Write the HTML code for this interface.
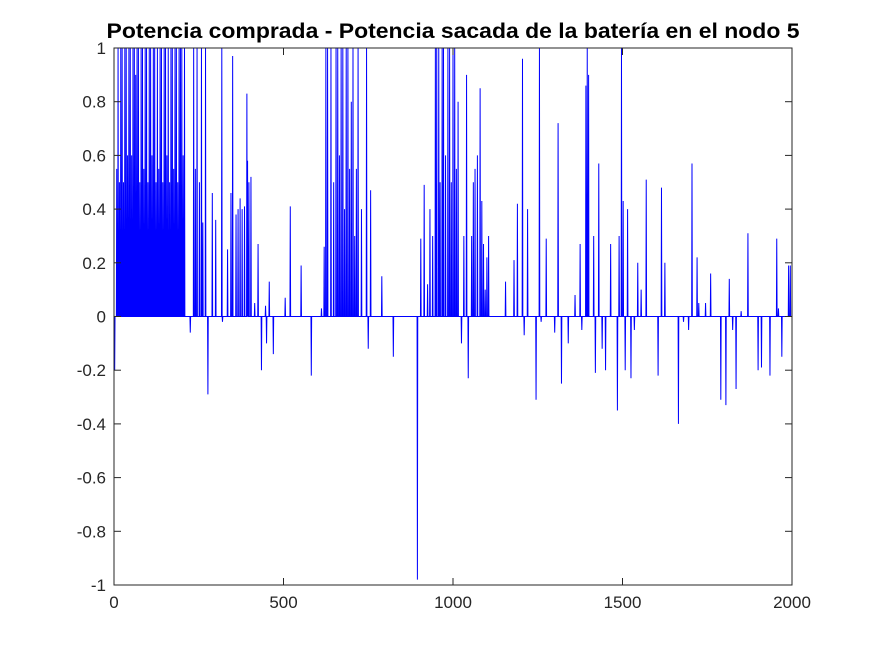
<!DOCTYPE html>
<html><head><meta charset="utf-8"><style>
body{margin:0;background:#fff;width:875px;height:656px;overflow:hidden}
svg{display:block;font-family:"Liberation Sans",Arial,sans-serif}
</style></head><body>
<svg id="chart" width="875" height="656">
<rect width="875" height="656" fill="#fff"/>
<text x="453" y="38" text-anchor="middle" font-size="21" font-weight="bold" fill="#000" textLength="693" lengthAdjust="spacingAndGlyphs">Potencia comprada - Potencia sacada de la batería en el nodo 5</text>
<g id="plot"></g>
<g id="axes"></g>
</svg>
<script>
const spikeX=[2,8,12,16,20,24,28,32,36,40,44,48,52,56,60,64,68,72,76,80,84,88,92,96,100,104,108,112,116,120,124,128,132,136,140,144,148,152,156,160,164,168,172,176,180,184,188,192,196,200,204,208,225,235,240,245,252,258,262,270,277,290,300,318,320,335,345,350,360,366,372,378,385,392,394,398,404,415,425,435,447,450,458,470,505,520,552,582,612,620,625,630,640,648,655,660,665,670,675,680,685,690,695,700,705,710,715,720,730,745,750,757,790,824,895,905,915,925,932,940,948,952,958,962,968,972,978,985,990,995,1000,1005,1010,1015,1025,1032,1040,1045,1055,1060,1065,1072,1080,1085,1090,1095,1100,1105,1155,1180,1190,1205,1210,1220,1245,1255,1260,1275,1300,1310,1320,1340,1360,1375,1380,1392,1396,1400,1415,1420,1430,1440,1450,1465,1485,1490,1497,1502,1508,1515,1525,1535,1545,1555,1570,1605,1615,1625,1665,1680,1695,1705,1720,1725,1745,1760,1790,1805,1815,1825,1835,1850,1870,1900,1910,1935,1955,1960,1970,1990,1995];
const spikeY=[-0.2,0.55,1,0.5,1,1,0.5,1,1,0.6,1,1,0.6,1,1,0.9,1,1,0.5,1,1,0.55,1,1,0.5,1,1,0.6,1,1,0.5,1,0.55,1,1,0.5,1,1,0.6,1,0.5,1,1,0.55,1,1,0.5,1,1,1,0.6,1,-0.06,1,0.55,1,0.5,1,0.35,1,-0.29,0.46,0.36,1,-0.02,0.25,0.46,0.97,0.38,0.4,0.44,0.4,0.41,0.83,0.58,0.5,0.52,0.05,0.27,-0.2,0.04,-0.1,0.13,-0.14,0.07,0.41,0.19,-0.22,0.03,0.26,1,1,1,0.5,1,1,0.6,1,1,0.4,1,1,0.55,0.8,1,0.3,0.55,1,0.4,1,-0.12,0.47,0.15,-0.15,-0.98,0.29,0.49,0.12,0.4,0.3,1,1,1,0.5,1,1,0.6,1,1,0.5,1,1,0.55,0.8,-0.1,0.3,0.9,-0.23,0.3,0.5,0.55,0.6,0.85,0.43,0.27,0.1,0.22,0.3,0.13,0.21,0.42,0.96,-0.07,0.4,-0.31,1,-0.02,0.29,-0.06,0.72,-0.25,-0.1,0.08,0.27,-0.05,0.86,1,0.9,0.3,-0.21,0.57,-0.12,-0.2,0.27,-0.35,0.3,1,0.43,-0.2,0.4,-0.23,-0.05,0.2,0.1,0.51,-0.22,0.48,0.2,-0.4,-0.02,-0.05,0.57,0.22,0.05,0.05,0.16,-0.31,-0.33,0.14,-0.05,-0.27,0.02,0.31,-0.2,-0.19,-0.22,0.29,0.03,-0.15,0.19,0.19];
const xTicks=[0,500,1000,1500,2000];
const yTicks=[-1,-0.8,-0.6,-0.4,-0.2,0,0.2,0.4,0.6,0.8,1];
const yTickLabels=["-1","-0.8","-0.6","-0.4","-0.2","0","0.2","0.4","0.6","0.8","1"];
const L=114,R=792,T=48,B=585,NS="http://www.w3.org/2000/svg";
const xs=v=>L+(v-0)/(2000-0)*(R-L);
const ys=v=>B-(v+1)/2*(B-T);
const plot=document.getElementById('plot'),axes=document.getElementById('axes');
let d="M"+xs(0)+","+ys(0);
for(let i=0;i<spikeX.length;i++){
  d+=" L"+xs(spikeX[i]-1)+","+ys(0)+" L"+xs(spikeX[i])+","+ys(spikeY[i])+" L"+xs(spikeX[i]+1)+","+ys(0);
}
d+=" L"+xs(2000)+","+ys(0);
const p=document.createElementNS(NS,'path');
p.setAttribute('d',d);p.setAttribute('fill','none');p.setAttribute('stroke','#0000ff');p.setAttribute('stroke-width','1');


plot.appendChild(p);
const box=document.createElementNS(NS,'rect');
box.setAttribute('x',L);box.setAttribute('y',T);box.setAttribute('width',R-L);box.setAttribute('height',B-T);
box.setAttribute('fill','none');box.setAttribute('stroke','#262626');box.setAttribute('stroke-width','1');


axes.appendChild(box);
xTicks.forEach(v=>{
  const x=xs(v);
  [[B,B-7],[T,T+7]].forEach(([a,b])=>{const l=document.createElementNS(NS,'line');
  l.setAttribute('x1',x);l.setAttribute('x2',x);l.setAttribute('y1',a);l.setAttribute('y2',b);l.setAttribute('stroke','#262626');
  
  
  axes.appendChild(l);});
  const t=document.createElementNS(NS,'text');
  t.setAttribute('x',x);t.setAttribute('y',B+23);t.setAttribute('text-anchor','middle');t.setAttribute('font-size','17');t.setAttribute('fill','#262626');
  t.textContent=v;
  
  
  axes.appendChild(t);
});
yTicks.forEach((v,i)=>{
  const y=ys(v);
  [[L,L+7],[R,R-7]].forEach(([a,b])=>{const l=document.createElementNS(NS,'line');
  l.setAttribute('x1',a);l.setAttribute('x2',b);l.setAttribute('y1',y);l.setAttribute('y2',y);l.setAttribute('stroke','#262626');
  
  
  axes.appendChild(l);});
  const t=document.createElementNS(NS,'text');
  t.setAttribute('x',L-8);t.setAttribute('y',y+6);t.setAttribute('text-anchor','end');t.setAttribute('font-size','17');t.setAttribute('fill','#262626');
  t.textContent=yTickLabels[i];
  
  
  axes.appendChild(t);
});
</script>
</body></html>
